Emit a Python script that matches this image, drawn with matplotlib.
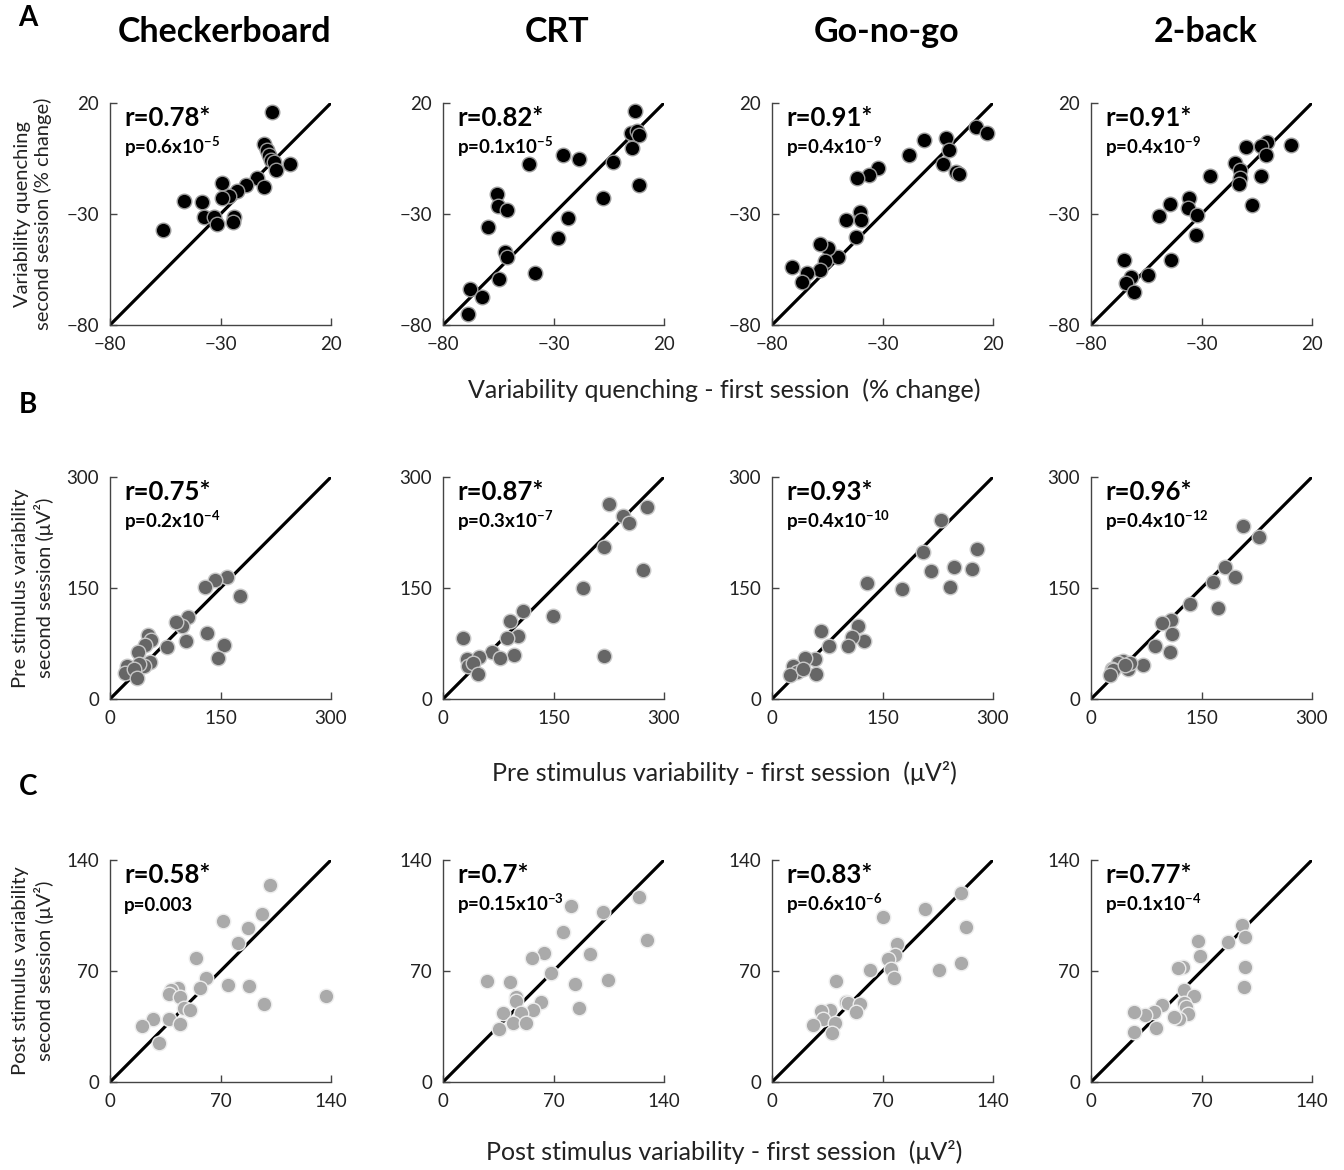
import matplotlib as mpl
mpl.use("Agg")
import matplotlib.pyplot as plt

plt.rcParams["font.family"] = ["Lato", "DejaVu Sans"]
plt.rcParams["mathtext.fontset"] = "custom"
plt.rcParams["mathtext.rm"] = "Lato"
plt.rcParams["mathtext.bf"] = "Lato:bold"

# ## Data
TASKS = ["Checkerboard", "CRT", "Go-no-go", "2-back"]

# Row A: variability quenching (% change)
A_CHECK_X = [-6.5, -10.3, -9.1, -8, -7.3, -5.8, -5, 1.5, -13.3, -10.3, -18.6, -22.4, -26.2, -29.2, -29.2,
             -38.3, -46.4, -37.6, -33, -31.8, -23.9, -24.2, -55.8]
A_CHECK_Y = [16, 1.7, -1.3, -3.6, -5.8, -6.6, -10.3, -7.3, -13.6, -17.8, -16.8, -19.8, -22, -22.6, -16,
             -24.6, -24.1, -31.4, -31.4, -34.4, -31.4, -33.6, -37]
A_CRT_X = [7.1, 4.9, 7.9, 8.6, 5.6, -2.9, 8.6, -7.8, -25.8, -18.3, -23.6, -28.1, -41.2, -55.7, -55.3,
           -51, -59.5, -52, -51, -38.2, -54.7, -67.7, -62.2, -68.8]
A_CRT_Y = [16.4, 6.5, 7.4, 5.5, -0.1, -6.8, -17, -22.6, -3.2, -5.3, -31.7, -41, -7.6, -20.8, -26.5,
           -28.3, -35.8, -47.3, -49.3, -56.5, -59.3, -63.8, -67.3, -75.2]
A_GNG_X = [12.1, 17.5, -1.2, 0.3, -2.7, 3.3, 4.6, -11.3, -18, -31.9, -36, -41.5, -40.4, -39.7, -46.4,
           -42.2, -50.1, -54.6, -58.4, -56.1, -58.4, -71, -64.3, -66.6]
A_GNG_Y = [9.2, 6.7, 4.3, -1.3, -7.6, -11, -11.8, 3.2, -3.2, -9.2, -12.5, -14, -29, -32.8, -32.8,
           -40.3, -49.3, -45.2, -43.6, -51.2, -55.3, -53.8, -56.8, -60.5]
A_BACK_X = [10.6, -0.5, -3.2, -1, -9.7, -15, -12.5, -12.7, -13, -3.2, -7.3, -26, -35.8, -36.2, -44.2,
            -49.1, -32, -32.5, -44, -54.2, -65, -62, -64, -60.5]
A_BACK_Y = [1, 2.5, 0.5, -3.5, 0, -7, -10.3, -13.6, -16.3, -13, -26, -13, -22.6, -27.5, -25.6,
            -30.8, -30.5, -39.5, -50.5, -57.5, -50.8, -58.6, -61, -65]

# Row B: pre stimulus variability (uV^2)
B_CHECK_X = [159, 142, 128.6, 176, 106, 98, 89, 102.6, 131, 154.5, 147, 77.7, 52, 55, 48, 38, 54, 46,
             39, 23.5, 21, 32.5, 36]
B_CHECK_Y = [165, 161, 151, 139, 111, 99, 104, 79, 89, 72.5, 55, 70, 86, 80, 73, 64, 49.5, 44, 47, 44,
             35, 40, 28]
B_CRT_X = [225, 276.7, 245, 252, 219, 271, 190, 149, 108.5, 90.6, 102, 87, 97, 66, 77, 27.8, 32, 49,
           34.5, 41, 48, 219]
B_CRT_Y = [263.5, 259.5, 247, 238, 205, 175, 150, 112.6, 118.5, 105, 85.6, 82, 60, 63, 55, 82, 54, 57,
           44, 48.6, 34, 58.6]
B_GNG_X = [229.7, 278.5, 205, 216, 247, 272, 241, 176, 128.5, 116.4, 125.4, 109, 103, 67, 78, 58, 45,
           29, 33.6, 24.6, 59.6, 42.5]
B_GNG_Y = [242, 203, 198.6, 173, 178, 176, 152, 148.6, 156.8, 98, 79, 84, 71, 92, 72, 54.5, 56, 44,
           37, 33, 34, 40]
B_BACK_X = [206.6, 228, 182, 195, 165, 172, 134.6, 108, 96, 110, 106.7, 86.4, 70.7, 50.4, 43.7, 37, 28,
            30, 25.7, 52.7, 46]
B_BACK_Y = [234, 218.5, 178, 165, 158, 123, 129, 107, 103, 88, 64, 71, 46, 40.5, 51, 48.6, 40.5, 39.6,
            32, 48.6, 46]

# Row C: post stimulus variability (uV^2)
C_CHECK_X = [101.6, 96, 87.5, 71.5, 81, 54.6, 61, 56.7, 75, 88.3, 97.8, 137, 43, 38.4, 37.3, 44.3,
             46.8, 50.6, 37.3, 27.4, 20.5, 44.3, 31]
C_CHECK_Y = [124, 105.7, 97.3, 101.5, 87.5, 78.4, 65.8, 59, 61, 60.5, 49, 54, 59.5, 58, 55.5, 53.8,
             46.5, 45.4, 40, 40, 35.5, 36.6, 24.8]
C_CRT_X = [124, 129.5, 101.5, 81, 76, 92.9, 63.8, 56.5, 68.4, 83.5, 104.6, 86.2, 27.6, 42.7, 46.4, 46,
           62, 57, 49.6, 38, 44.4, 52.7, 35.4]
C_CRT_Y = [116.5, 89.6, 107, 111, 94.8, 80.5, 81.6, 78.4, 69, 61.6, 64.3, 46.5, 64, 63.3, 53.8, 51.3,
           50.7, 45.4, 43.3, 43.7, 37, 37.4, 33.2]
C_GNG_X = [119.5, 122.8, 120, 105.5, 96.7, 70, 79.4, 78, 73.5, 75.2, 77.3, 62.3, 40.7, 47, 48, 55.8,
           52.9, 36.6, 31, 32.4, 39.7, 25.7, 38]
C_GNG_Y = [119.4, 97.5, 75.3, 70.6, 109, 104, 87, 80, 77.4, 71.3, 65.4, 70.6, 63.7, 50.7, 49.6, 49.2,
           44.4, 45.4, 44.8, 40, 37, 36, 30.7]
C_BACK_X = [95.5, 97.4, 86.9, 67.6, 69, 58.1, 55, 97.4, 97, 58.8, 65.5, 59.2, 60.2, 61.7, 56, 52.3,
            44.9, 39.7, 34, 27.3, 41.4, 27]
C_BACK_Y = [99, 91.7, 88.5, 89, 79.5, 72.7, 71.6, 72.7, 60, 58, 54.4, 49.6, 47.5, 43, 40, 41.2, 48.6,
            44.4, 42.3, 44.4, 33.8, 31.7]

A_R = ["r=0.78*", "r=0.82*", "r=0.91*", "r=0.91*"]
A_P = [r"p=0.6x10$^{\mathbf{-5}}$", r"p=0.1x10$^{\mathbf{-5}}$", r"p=0.4x10$^{\mathbf{-9}}$", r"p=0.4x10$^{\mathbf{-9}}$"]
B_R = ["r=0.75*", "r=0.87*", "r=0.93*", "r=0.96*"]
B_P = [r"p=0.2x10$^{\mathbf{-4}}$", r"p=0.3x10$^{\mathbf{-7}}$", r"p=0.4x10$^{\mathbf{-10}}$", r"p=0.4x10$^{\mathbf{-12}}$"]
C_R = ["r=0.58*", "r=0.7*", "r=0.83*", "r=0.77*"]
C_P = ["p=0.003", r"p=0.15x10$^{\mathbf{-3}}$", r"p=0.6x10$^{\mathbf{-6}}$", r"p=0.1x10$^{\mathbf{-4}}$"]

ROWS = [
    dict(xs=[A_CHECK_X, A_CRT_X, A_GNG_X, A_BACK_X], ys=[A_CHECK_Y, A_CRT_Y, A_GNG_Y, A_BACK_Y],
         r=A_R, p=A_P, lim=(-80, 20), ticks=[-80, -30, 20], face="black", edge="#9a9a9a",
         ylabel="Variability quenching\nsecond session (% change)",
         xlabel="Variability quenching - first session  (% change)", letter="A"),
    dict(xs=[B_CHECK_X, B_CRT_X, B_GNG_X, B_BACK_X], ys=[B_CHECK_Y, B_CRT_Y, B_GNG_Y, B_BACK_Y],
         r=B_R, p=B_P, lim=(0, 300), ticks=[0, 150, 300], face="#666666", edge="#c8c8c8",
         ylabel="Pre stimulus variability\nsecond session (\u03bcV\u00b2)",
         xlabel="Pre stimulus variability - first session  (\u03bcV\u00b2)", letter="B"),
    dict(xs=[C_CHECK_X, C_CRT_X, C_GNG_X, C_BACK_X], ys=[C_CHECK_Y, C_CRT_Y, C_GNG_Y, C_BACK_Y],
         r=C_R, p=C_P, lim=(0, 140), ticks=[0, 70, 140], face="#aaaaaa", edge="#ececec",
         ylabel="Post stimulus variability\nsecond session (\u03bcV\u00b2)",
         xlabel="Post stimulus variability - first session  (\u03bcV\u00b2)", letter="C"),
]

W, H = 1344, 1170
COL_LEFT = [110, 443, 772, 1091]
ROW_TOP = [103, 477, 860]
XLABEL_Y = [390, 773, 1152]
LETTER_Y = [18, 405, 787]
AX_W, AX_H = 221, 222

fig = plt.figure(figsize=(W / 100, H / 100), dpi=100)

for ri, row in enumerate(ROWS):
    for ci in range(4):
        left, top = COL_LEFT[ci], ROW_TOP[ri]
        ax = fig.add_axes([left / W, 1 - (top + AX_H) / H, AX_W / W, AX_H / H])
        lo, hi = row["lim"]
        ax.plot([lo, hi], [lo, hi], color="black", lw=2.3, zorder=2, solid_capstyle="butt")
        ax.scatter(row["xs"][ci], row["ys"][ci], s=110, c=row["face"], edgecolors=row["edge"],
                   linewidths=1.0, zorder=3, clip_on=False)
        ax.set_xlim(lo, hi)
        ax.set_ylim(lo, hi)
        ax.set_xticks(row["ticks"])
        ax.set_yticks(row["ticks"])
        ax.tick_params(direction="in", length=5, width=1, color="#444444", labelsize=13.5,
                       labelcolor="#222222", pad=8)
        for side in ["top", "right"]:
            ax.spines[side].set_visible(False)
        for side in ["left", "bottom"]:
            ax.spines[side].set_color("#444444")
            ax.spines[side].set_linewidth(1.0)
        ax.text(0.063, 0.895, row["r"][ci], transform=ax.transAxes, fontsize=18.5, fontweight="bold",
                va="baseline", ha="left")
        ax.text(0.063, 0.77, row["p"][ci], transform=ax.transAxes, fontsize=13.5, fontweight="bold",
                va="baseline", ha="left")
        if ri == 0:
            fig.text((left + AX_W / 2 + 4) / W, 1 - 32 / H, TASKS[ci], fontsize=24.5, fontweight="bold",
                     ha="center", va="center")

    top = ROW_TOP[ri]
    fig.text(33 / W, 1 - (top + AX_H / 2) / H, row["ylabel"], rotation=90, fontsize=14.5,
             ha="center", va="center", multialignment="center", color="#222222", linespacing=1.25)
    fig.text(724 / W, 1 - XLABEL_Y[ri] / H, row["xlabel"], fontsize=18, ha="center",
             va="center", color="#222222")
    fig.text(28 / W, 1 - LETTER_Y[ri] / H, row["letter"], fontsize=20, fontweight="bold",
             ha="center", va="center")

fig.savefig("out.png", dpi=100)
